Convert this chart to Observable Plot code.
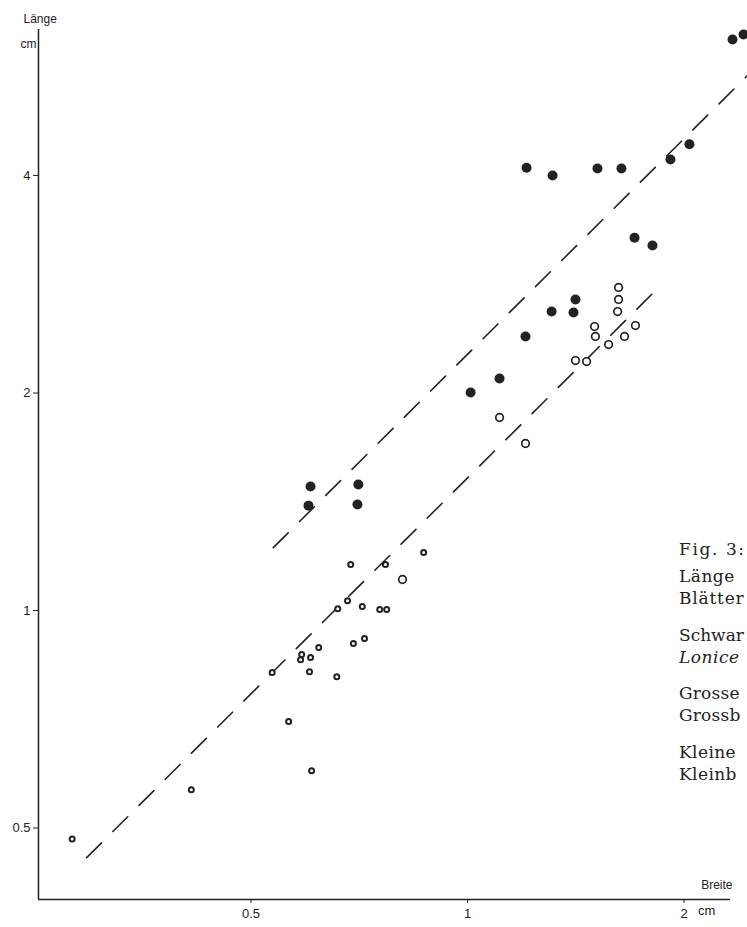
<!DOCTYPE html>
<html>
<head>
<meta charset="utf-8">
<script src="https://cdn.jsdelivr.net/npm/d3@7"></script>
<script src="https://cdn.jsdelivr.net/npm/@observablehq/plot@0.6"></script>
<style>
  html, body { margin: 0; padding: 0; background: #fff; }
  #wrap { position: relative; width: 747px; height: 927px; overflow: hidden; }
  #caption { position: absolute; left: 679px; top: 0; white-space: nowrap;
    font-family: "DejaVu Serif", "Liberation Serif", serif; font-size: 17px; color: #222; }
  #caption div { position: absolute; left: 0; }
</style>
</head>
<body>
<div id="wrap">
  <div id="chart"></div>
  <div id="caption"></div>
</div>
<script>
// Grosse Blätter (schwarze Punkte): Breite, Länge in cm
const filledBreite = [0.605, 0.601, 0.705, 0.703, 1.010, 1.108, 1.204, 1.309, 1.404, 1.413,
  1.208, 1.313, 1.516, 1.637, 1.915, 2.035, 1.707, 1.808, 2.336, 2.42];
const filledLaenge = [1.485, 1.397, 1.494, 1.402, 2.003, 2.095, 2.395, 2.593, 2.585, 2.695,
  4.10, 4.00, 4.09, 4.09, 4.21, 4.42, 3.28, 3.20, 6.17, 6.27];

// Grosse Kreise
const bigOpenBreite = [1.622, 1.622, 1.617, 1.502, 1.712, 1.506, 1.653, 1.571, 1.413, 1.464, 1.108, 1.204, 0.812];
const bigOpenLaenge = [2.80, 2.695, 2.593, 2.472, 2.480, 2.395, 2.395, 2.334, 2.218, 2.211, 1.850, 1.703, 1.104];

// Kleine Kreise
const smallOpenBreite = [0.869, 0.688, 0.769, 0.681, 0.660, 0.714, 0.755, 0.772, 0.719, 0.694, 0.621,
  0.588, 0.586, 0.605, 0.535, 0.603, 0.658, 0.564, 0.607, 0.413, 0.282];
const smallOpenLaenge = [1.203, 1.158, 1.158, 1.032, 1.006, 1.013, 1.003, 1.003, 0.915, 0.900, 0.889,
  0.869, 0.855, 0.861, 0.821, 0.823, 0.810, 0.702, 0.600, 0.565, 0.483];

// Regression lines (dashed): endpoints [Breite, Länge]
const upperLine = [[0.537, 1.222], [2.45, 5.50]];
const lowerLine = [[0.2954, 0.455], [1.855, 2.817]];

// Axes
const xTicks = [0.5, 1, 2];
const yTicks = [0.5, 1, 2, 4];
const xDomain = [0.2532, 2.321];
const yDomain = [0.3982, 6.37];

// Caption, as far as it is visible (cut at the right edge of the figure)
const captionLines = [
  {text: "Fig. 3:", italic: false, top: 539, spacing: 1.6},
  {text: "Länge", italic: false, top: 566, spacing: 0.5},
  {text: "Blätter", italic: false, top: 588, spacing: 0.8},
  {text: "Schwar", italic: false, top: 625, spacing: 0},
  {text: "Lonice", italic: true, top: 647, spacing: 0.5},
  {text: "Grosse", italic: false, top: 683, spacing: 0.2},
  {text: "Grossb", italic: false, top: 705, spacing: 0.2},
  {text: "Kleine", italic: false, top: 742, spacing: 0.4},
  {text: "Kleinb", italic: false, top: 764, spacing: 0.4}
];

const toPts = (xs, ys) => xs.map((x, i) => ({x, y: ys[i]}));
const filled = toPts(filledBreite, filledLaenge);
const bigOpen = toPts(bigOpenBreite, bigOpenLaenge);
const smallOpen = toPts(smallOpenBreite, smallOpenLaenge);
const ink = "#222";

const chart = Plot.plot({
  width: 747,
  height: 927,
  marginLeft: 38,
  marginRight: 17,
  marginTop: 29,
  marginBottom: 28,
  style: {background: "#fff", color: ink, fontFamily: "'Liberation Sans', Arial, sans-serif", fontSize: "13px"},
  x: {type: "log", domain: xDomain, ticks: xTicks, tickSize: 4, tickPadding: 5, tickFormat: d => String(d), label: null},
  y: {type: "log", domain: yDomain, ticks: yTicks, tickSize: 5, tickPadding: 3, tickFormat: d => String(d), label: null},
  marks: [
    Plot.ruleX([xDomain[0]], {y1: yDomain[0], y2: yDomain[1], stroke: ink, strokeWidth: 1.5}),
    Plot.ruleY([yDomain[0]], {x1: xDomain[0], x2: xDomain[1], stroke: ink, strokeWidth: 1.5}),
    Plot.line(upperLine, {x: d => d[0], y: d => d[1], stroke: ink, strokeWidth: 1.6, strokeDasharray: "21,16"}),
    Plot.line(lowerLine, {x: d => d[0], y: d => d[1], stroke: ink, strokeWidth: 1.6, strokeDasharray: "21,16"}),
    Plot.dot(filled, {x: "x", y: "y", r: 5, fill: ink, stroke: null}),
    Plot.dot(bigOpen, {x: "x", y: "y", r: 3.8, fill: "#fff", stroke: ink, strokeWidth: 1.7}),
    Plot.dot(smallOpen, {x: "x", y: "y", r: 2.5, fill: "#fff", stroke: ink, strokeWidth: 2}),
    Plot.text(["Länge"], {frameAnchor: "top-left", dx: -15, dy: -15, textAnchor: "start", fontSize: 12, letterSpacing: 1.5}),
    Plot.text(["cm"], {frameAnchor: "top-left", dx: -2, dy: 10, textAnchor: "end", fontSize: 12, letterSpacing: 1}),
    Plot.text(["Breite"], {frameAnchor: "bottom-right", dx: 2, dy: -11, textAnchor: "end", fontSize: 12, letterSpacing: 1.5}),
    Plot.text([{x: 2, t: "cm"}], {x: "x", frameAnchor: "bottom", text: "t", dx: 14, dy: 15, textAnchor: "start", fontSize: 13, letterSpacing: 1.5})
  ]
});
document.getElementById("chart").appendChild(chart);

const cap = document.getElementById("caption");
for (const l of captionLines) {
  const d = document.createElement("div");
  d.textContent = l.text;
  d.style.top = l.top + "px";
  d.style.letterSpacing = l.spacing + "px";
  if (l.italic) d.style.fontStyle = "italic";
  cap.appendChild(d);
}
</script>
</body>
</html>
